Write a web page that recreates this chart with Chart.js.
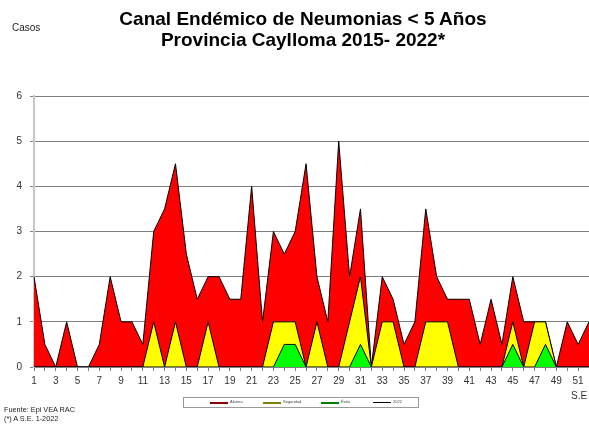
<!DOCTYPE html>
<html>
<head>
<meta charset="utf-8">
<script src="https://cdn.jsdelivr.net/npm/chart.js@4"></script>
<style>
  body { margin: 0; background: #fff; font-family: Arial, "Liberation Sans", sans-serif; }
  #wrap { position: relative; width: 589px; height: 426px; overflow: hidden; }
  #c { position: absolute; left: 0; top: 0; }
  .t { position: absolute; white-space: nowrap; }
  #title { left: 0; width: 606px; top: 8px; text-align: center; font-weight: bold; font-size: 19px; line-height: 21px; color: #000; }
  #casos { left: 12px; top: 22px; font-size: 10px; color: #222; }
  #se { left: 571px; top: 390px; font-size: 10px; color: #333; }
  #foot { left: 4px; top: 406px; font-size: 7.3px; line-height: 8.5px; color: #222; }
  #legend { position: absolute; left: 183px; top: 397px; width: 236px; height: 11px; border: 1px solid #999; box-sizing: border-box; }
  .li { position: absolute; top: 4px; height: 0; }
  .lt { position: absolute; top: 1px; font-size: 4px; color: #444; }
</style>
</head>
<body>
<div id="wrap">
  <canvas id="c" width="589" height="426"></canvas>
  <div class="t" id="casos">Casos</div>
  <div class="t" id="title">Canal Endémico de Neumonias &lt; 5 Años<br>Provincia Caylloma 2015- 2022*</div>
  <div class="t" id="se">S.E</div>
  <div class="t" id="foot">Fuente: Epi VEA RAC<br>(*) A S.E. 1-2022</div>
  <div id="legend">
    <div class="li" style="left:26px;width:18px;border-top:2px solid #8b0000"></div><div class="lt" style="left:46px">Alarma</div>
    <div class="li" style="left:79px;width:18px;border-top:2px solid #808000"></div><div class="lt" style="left:99px">Seguridad</div>
    <div class="li" style="left:137px;width:18px;border-top:2px solid #008000"></div><div class="lt" style="left:157px">Éxito</div>
    <div class="li" style="left:189px;width:18px;border-top:1px solid #000"></div><div class="lt" style="left:209px">2022</div>
  </div>
</div>
<script>
// Semanas epidemiologicas 1..52
const weeks = Array.from({ length: 52 }, (_, i) => String(i + 1));

// Zona de alarma (limite superior)
const alarma = [2, 0.5, 0, 1, 0, 0, 0.5, 2, 1, 1, 0.5, 3, 3.5, 4.5, 2.5, 1.5, 2, 2, 1.5, 1.5,
  4, 1, 3, 2.5, 3, 4.5, 2, 1, 5, 2, 3.5, 0, 2, 1.5, 0.5, 1, 3.5, 2, 1.5, 1.5,
  1.5, 0.5, 1.5, 0.5, 2, 1, 1, 1, 0, 1, 0.5, 1];

// Zona de seguridad
const seguridad = [0, 0, 0, 0, 0, 0, 0, 0, 0, 0, 0, 1, 0, 1, 0, 0, 1, 0, 0, 0,
  0, 0, 1, 1, 1, 0, 1, 0, 0, 1, 2, 0, 1, 1, 0, 0, 1, 1, 1, 0,
  0, 0, 0, 0, 1, 0, 1, 1, 0, 0, 0, 0];

// Zona de exito
const exito = [0, 0, 0, 0, 0, 0, 0, 0, 0, 0, 0, 0, 0, 0, 0, 0, 0, 0, 0, 0,
  0, 0, 0, 0.5, 0.5, 0, 0, 0, 0, 0, 0.5, 0, 0, 0, 0, 0, 0, 0, 0, 0,
  0, 0, 0, 0, 0.5, 0, 0, 0.5, 0, 0, 0, 0];

// Casos 2022 (solo S.E. 1)
const casos2022 = [0];

const yTicks = [0, 1, 2, 3, 4, 5, 6];

const area = (label, data, color) => ({
  label, data,
  backgroundColor: color,
  borderColor: '#000',
  borderWidth: 1,
  fill: 'origin',
  pointRadius: 0,
  tension: 0,
});

new Chart(document.getElementById('c'), {
  type: 'line',
  data: {
    labels: weeks,
    datasets: [
      { label: '2022', data: casos2022, borderColor: '#000', borderWidth: 1, pointRadius: 0, fill: false },
      area('Éxito', exito, '#00ff00'),
      area('Seguridad', seguridad, '#ffff00'),
      area('Alarma', alarma, '#ff0000'),
    ],
  },
  options: {
    responsive: false,
    animation: false,
    layout: { padding: { top: 96, right: 0, bottom: 41, left: 0 } },
    plugins: { legend: { display: false }, tooltip: { enabled: false } },
    scales: {
      x: {
        offset: false,
        grid: { display: true, drawOnChartArea: false, drawTicks: true, tickLength: 4, color: '#808080' },
        border: { color: '#808080', width: 1 },
        ticks: {
          autoSkip: false, maxRotation: 0, padding: 4,
          color: '#333', font: { family: 'Arial', size: 10 },
          callback: (v, i) => (i % 2 === 0 ? weeks[i] : ''),
        },
        afterFit: s => { s.height = 18; s.paddingLeft = 0; s.paddingRight = 0; },
      },
      y: {
        min: 0, max: 6,
        afterBuildTicks: s => { s.ticks = yTicks.map(v => ({ value: v })); },
        grid: { color: '#808080', drawTicks: true, tickLength: 4 },
        border: { color: '#c8c8c8', width: 2 },
        ticks: { color: '#333', font: { family: 'Arial', size: 10 }, padding: 8 },
        afterFit: s => { s.width = 34; },
      },
    },
  },
});
</script>
</body>
</html>
